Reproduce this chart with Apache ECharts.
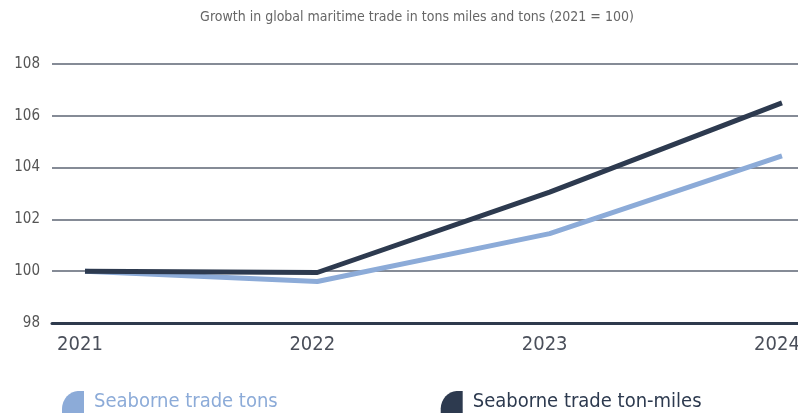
<!DOCTYPE html>
<html><head><meta charset="utf-8">
<script src="https://cdn.jsdelivr.net/npm/echarts@6/dist/echarts.min.js"></script>
<style>html,body{margin:0;padding:0;background:#fff}#c{width:798px;height:418px}</style>
</head><body><div id="c"></div>
<script>
const years = [2021, 2022, 2023, 2024];
const yTicks = [98, 100, 102, 104, 106, 108];
const tons = [100, 99.6, 101.45, 104.45];
const tonMiles = [100, 99.95, 103.05, 106.5];
const seriesNames = ['Seaborne trade tons', 'Seaborne trade ton-miles'];
const titleText = 'Growth in global maritime trade in tons miles and tons (2021 = 100)';

const FONT = '"DejaVu Sans Condensed", "Liberation Sans Narrow", sans-serif';
const cLight = '#8cabd8', cDark = '#2d3a4f';
const chart = echarts.init(document.getElementById('c'), null, {renderer: 'canvas'});
const pair = (arr) => years.map((y, i) => [y, arr[i]]);
const icon = 'path://M1,1 L0,1 L0,0.8 C0,0.38 0.35,0 0.72,0 L1,0 Z';
chart.setOption({
  animation: false,
  graphic: [{type: 'text', x: 417, y: 17, style: {text: titleText, fill: '#666', font: '14px ' + FONT, textAlign: 'center', textVerticalAlign: 'middle'}}],
  grid: {left: 52, right: 0, top: 64, bottom: 95, outerBoundsMode: 'none', containLabel: false},
  legend: {
    left: 57, top: 386, itemGap: 163, itemWidth: 22, itemHeight: 32,
    icon: icon,
    data: [
      {name: seriesNames[0], textStyle: {color: cLight}},
      {name: seriesNames[1], textStyle: {color: cDark}}
    ],
    textStyle: {fontFamily: FONT, fontSize: 20, padding: [0,0,0,5]}
  },
  xAxis: {
    type: 'value', min: 2020.858, max: 2024.069,
    axisLine: {show: true, lineStyle: {color: '#2e3a4d', width: 3}},
    axisTick: {show: false},
    splitLine: {show: false},
    axisLabel: {customValues: years, formatter: (v) => String(v), color: '#4a4f5a', fontFamily: FONT, fontSize: 20, margin: 12, padding: [0,10,0,0]}
  },
  yAxis: {
    type: 'value', min: yTicks[0], max: yTicks[yTicks.length-1], interval: 2,
    axisLine: {show: false}, axisTick: {show: false},
    axisLabel: {color: '#555', fontFamily: FONT, fontSize: 15, margin: 12},
    splitLine: {lineStyle: {color: '#5c6573', width: 1.5}}
  },
  series: [
    {name: seriesNames[0], type: 'line', data: pair(tons), symbol: 'none', lineStyle: {color: cLight, width: 5}, itemStyle: {color: cLight}, z: 3},
    {name: seriesNames[1], type: 'line', data: pair(tonMiles), symbol: 'none', lineStyle: {color: cDark, width: 5}, itemStyle: {color: cDark}, z: 4}
  ]
});
</script></body></html>
